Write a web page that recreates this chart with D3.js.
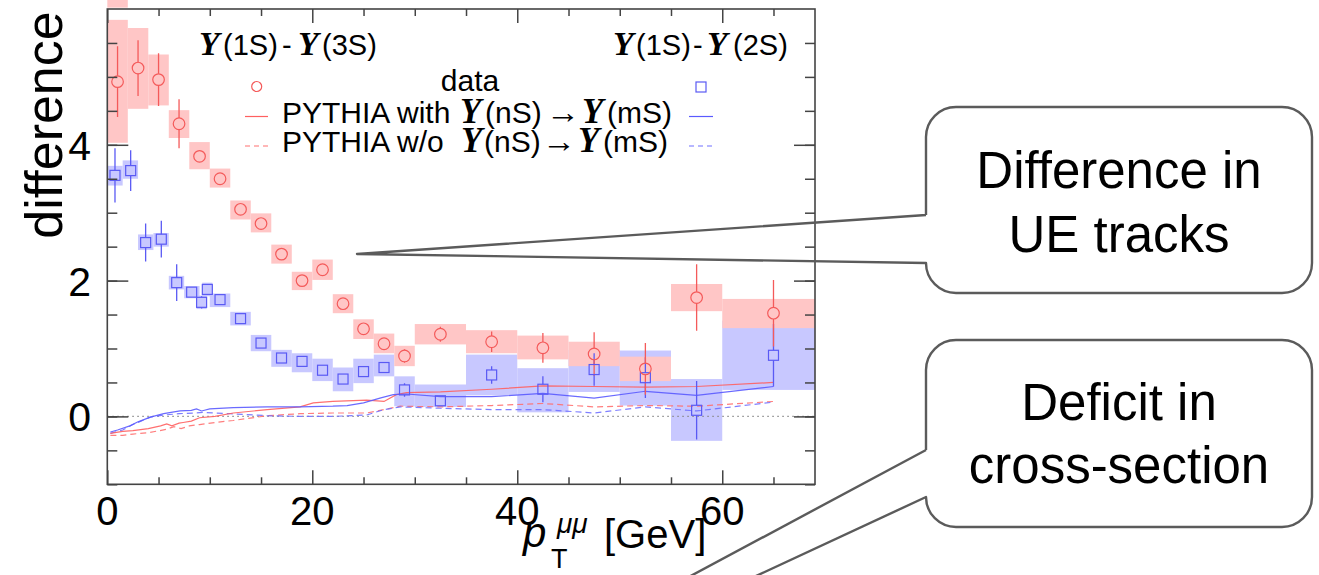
<!DOCTYPE html>
<html><head><meta charset="utf-8">
<script src="https://cdn.jsdelivr.net/npm/d3@7"></script>
<style>body{margin:0;background:#fff;} svg{display:block;background:#fff;}</style>
</head><body><svg id="c" width="1319" height="575"></svg>
<script>
// ---------- data: Y(1S)-Y(3S) (red circles) ----------
const redX   = [1,3,5,7,9,11,13,15,17,19,21,23,25,27,29,32.5,37.5,42.5,47.5,52.5,57.5,65];
const redY   = [4.93,5.13,4.96,4.31,3.83,3.50,3.05,2.84,2.39,2.00,2.16,1.66,1.29,1.07,0.89,1.21,1.10,1.01,0.92,0.70,1.75,1.52];
const redErr = [0.52,0.41,0.39,0.36,0.06,0.05,0.05,0.05,0.05,0.05,0.05,0.06,0.07,0.08,0.10,0.11,0.15,0.22,0.32,0.38,0.49,0.49];
const redBinLo = [0,2,4,6,8,10,12,14,16,18,20,22,24,26,28,30,35,40,45,50,55,60];
const redBinHi = [2,4,6,8,10,12,14,16,18,20,22,24,26,28,30,35,40,45,50,55,60,70];
const redSysLo = [4.03,4.53,4.58,4.10,3.64,3.37,2.90,2.71,2.25,1.86,2.01,1.52,1.14,0.93,0.74,1.06,0.93,0.84,0.74,0.52,1.55,1.30];
const redSysHi = [5.84,5.72,5.33,4.51,4.04,3.65,3.18,2.99,2.53,2.13,2.31,1.80,1.43,1.22,1.04,1.36,1.27,1.19,1.10,0.88,1.95,1.73];

// ---------- data: Y(1S)-Y(2S) (blue squares) ----------
const blueX   = [0.75,2.28,3.74,5.27,6.77,8.23,9.2,9.76,11,13,15,17,19,21,23,25,27,29,32.5,37.5,42.5,47.5,52.5,57.5,65];
const blueY   = [3.55,3.62,2.56,2.61,1.97,1.83,1.68,1.87,1.72,1.44,1.08,0.86,0.81,0.68,0.55,0.66,0.72,0.39,0.23,0.61,0.40,0.69,0.57,0.09,0.90];
const blueErr = [0.40,0.30,0.28,0.27,0.27,0.06,0.09,0.08,0.05,0.05,0.05,0.05,0.05,0.05,0.07,0.07,0.08,0.10,0.07,0.13,0.19,0.24,0.30,0.43,0.46];
const blueBinLo = [0,1.5,3,4.5,6,7.5,8.7,9.26,10,12,14,16,18,20,22,24,26,28,30,35,40,45,50,55,60];
const blueBinHi = [1.5,3,4.5,6,7.5,9,9.7,10.26,12,14,16,18,20,22,24,26,28,30,35,40,45,50,55,60,70];
const blueSysLo = [3.40,3.50,2.45,2.50,1.87,1.74,1.58,1.77,1.61,1.34,0.96,0.73,0.65,0.52,0.37,0.49,0.59,0.15,0.14,0.31,0.06,0.36,0.16,-0.36,0.39];
const blueSysHi = [3.69,3.77,2.68,2.70,2.07,1.92,1.78,1.97,1.81,1.54,1.20,0.98,0.93,0.85,0.72,0.85,0.91,0.59,0.47,0.91,0.71,0.98,0.97,0.55,1.41];

// ---------- PYTHIA curves ----------
const redSolidX = [0.3,1.5,2.5,4,5.2,5.8,6.3,7,7.4,8.2,9,10.5,12.3,15.6,18.8,20.1,22,25.3,27,28.2,29.2,32.5,37.5,42.5,47.5,52.5,57.5,65];
const redSolidY = [-0.25,-0.22,-0.21,-0.18,-0.14,-0.11,-0.14,-0.10,-0.09,-0.07,-0.02,0.0,0.05,0.10,0.14,0.20,0.22,0.24,0.22,0.32,0.35,0.36,0.40,0.45,0.44,0.43,0.44,0.50];
const blueSolidX = [0.3,1,2.2,3,4.2,5.5,7.1,8.2,8.7,9.2,10,12.3,15.6,18.8,22,23.4,25,26.6,27.9,29.2,32.5,37.5,42.5,47.5,52.5,57.5,65];
const blueSolidY = [-0.23,-0.2,-0.14,-0.08,-0.01,0.04,0.08,0.09,0.11,0.08,0.11,0.13,0.14,0.14,0.15,0.16,0.20,0.27,0.32,0.33,0.29,0.29,0.34,0.27,0.37,0.31,0.44];
const redDashX = [0.3,1.5,2.5,4,5.8,6.5,7.2,8,9,10.5,12.3,15.6,18.8,22,25.3,27,28.6,32.5,37.5,42.5,47.5,52.5,57.5,65];
const redDashY = [-0.28,-0.28,-0.26,-0.24,-0.19,-0.15,-0.18,-0.14,-0.12,-0.09,-0.06,0.01,0.04,0.05,0.05,0.10,0.15,0.14,0.16,0.19,0.14,0.16,0.15,0.22];
const blueDashX = [0.3,1.5,2.5,4.2,5.5,7,8.5,9.3,10.5,12,15.6,18.8,22,25.3,27,28.6,32.5,37.5,42.5,47.5,52.5,57.5,65];
const blueDashY = [-0.25,-0.2,-0.12,-0.01,0.02,0.04,0.05,0.06,0.05,0.04,0.01,0.0,0.0,0.02,0.10,0.14,0.12,0.10,0.10,0.05,0.14,0.08,0.21];

// stray pink strip above the frame (first bin)
const strayLo = [6.02], strayHi = [6.3], strayBinLo = [0], strayBinHi = [2];

// ---------- ticks ----------
const yMajor = [0,2,4];
const yLabels = ["0","2","4"];
const yMinor = [-1,-0.5,0,0.5,1,1.5,2,2.5,3,3.5,4,4.5,5,5.5];
const xMajor = [0,20,40,60];
const xLabels = ["0","20","40","60"];
const xMinor = [5,10,15,25,30,35,45,50,55,65];

const RED="#f45a5a", BLUE="#5a5af4", RFILL="#ffc6c6", BFILL="#c8c8ff";
const SANS="'Liberation Sans', Arial, Helvetica, sans-serif";
const SERIF="'Liberation Serif', 'Times New Roman', serif";

const svg=d3.select("#c");
const L=107.3, R=815, T=9, B=484.3;
const x=d3.scaleLinear().domain([0,69.05]).range([L,R]);
const y=d3.scaleLinear().domain([-1,6]).range([B,T]);

svg.append("defs").append("clipPath").attr("id","clip")
  .append("rect").attr("x",L).attr("y",T).attr("width",R-L).attr("height",B-T);
const g=svg.append("g").attr("clip-path","url(#clip)");

// stray strip (outside frame, no clip)
svg.selectAll("rect.stray").data(strayLo).join("rect").attr("class","stray")
  .attr("x",(d,i)=>x(strayBinLo[i])).attr("width",(d,i)=>x(strayBinHi[i])-x(strayBinLo[i]))
  .attr("y",(d,i)=>y(strayHi[i])).attr("height",(d,i)=>y(d)-y(strayHi[i])).attr("fill",RFILL);

// boxes
g.selectAll("rect.bb").data(blueSysLo).join("rect").attr("class","bb")
  .attr("x",(d,i)=>x(blueBinLo[i])).attr("width",(d,i)=>x(blueBinHi[i])-x(blueBinLo[i]))
  .attr("y",(d,i)=>y(blueSysHi[i])).attr("height",(d,i)=>y(d)-y(blueSysHi[i])).attr("fill",BFILL);
g.selectAll("rect.rb").data(redSysLo).join("rect").attr("class","rb")
  .attr("x",(d,i)=>x(redBinLo[i])).attr("width",(d,i)=>x(redBinHi[i])-x(redBinLo[i]))
  .attr("y",(d,i)=>y(redSysHi[i])).attr("height",(d,i)=>y(d)-y(redSysHi[i])).attr("fill",RFILL);

// zero dotted line
g.append("line").attr("x1",x(0)).attr("x2",x(69.05)).attr("y1",y(0)).attr("y2",y(0))
  .attr("stroke","#8a8a8a").attr("stroke-width",1.3).attr("stroke-dasharray","1.5,3.5");

// curves
const line=d3.line().x(d=>x(d[0])).y(d=>y(d[1]));
function curve(xs,ys,col,dash){
  g.append("path").datum(xs.map((v,i)=>[v,ys[i]])).attr("d",line)
   .attr("fill","none").attr("stroke",col).attr("stroke-width",1.2)
   .attr("stroke-dasharray",dash?"6,4":null).attr("opacity",0.9);
}
curve(redDashX,redDashY,"#ff7070",true);
curve(blueDashX,blueDashY,"#7070ff",true);
curve(redSolidX,redSolidY,"#ff6060",false);
curve(blueSolidX,blueSolidY,"#5a5aff",false);

// error bars
function errs(xs,ys,es,col,r){
  xs.forEach((xv,i)=>{
    const cy=y(ys[i]), top=y(ys[i]+es[i]), bot=y(ys[i]-es[i]);
    if(cy-top>r){
      g.append("line").attr("x1",x(xv)).attr("x2",x(xv)).attr("y1",top).attr("y2",cy-r).attr("stroke",col).attr("stroke-width",1.3);
      g.append("line").attr("x1",x(xv)).attr("x2",x(xv)).attr("y1",cy+r).attr("y2",bot).attr("stroke",col).attr("stroke-width",1.3);
    }
  });
}
errs(blueX,blueY,blueErr,BLUE,5);
errs(redX,redY,redErr,RED,5.8);

// markers
g.selectAll("rect.bm").data(blueY).join("rect").attr("class","bm")
  .attr("x",(d,i)=>x(blueX[i])-5).attr("y",d=>y(d)-5).attr("width",10).attr("height",10)
  .attr("fill","none").attr("stroke",BLUE).attr("stroke-width",1.2);
g.selectAll("circle.rm").data(redY).join("circle").attr("class","rm")
  .attr("cx",(d,i)=>x(redX[i])).attr("cy",d=>y(d)).attr("r",5.8)
  .attr("fill","none").attr("stroke",RED).attr("stroke-width",1.2);

// frame
svg.append("rect").attr("x",L).attr("y",T).attr("width",R-L).attr("height",B-T)
  .attr("fill","none").attr("stroke","#444").attr("stroke-width",1.6);

// ticks
const TK="#444";
function yt(vals,len){
  svg.append("g").attr("transform",`translate(${L},0)`).call(d3.axisRight(y).tickValues(vals).tickSize(len).tickFormat(""))
    .call(a=>a.select(".domain").remove()).selectAll("line").attr("stroke",TK).attr("stroke-width",1.5);
  svg.append("g").attr("transform",`translate(${R},0)`).call(d3.axisLeft(y).tickValues(vals).tickSize(len).tickFormat(""))
    .call(a=>a.select(".domain").remove()).selectAll("line").attr("stroke",TK).attr("stroke-width",1.5);
}
yt(yMinor,10); yt(yMajor,21);
function xt(vals,len){
  svg.append("g").attr("transform",`translate(0,${B})`).call(d3.axisTop(x).tickValues(vals).tickSize(len).tickFormat(""))
    .call(a=>a.select(".domain").remove()).selectAll("line").attr("stroke",TK).attr("stroke-width",1.5);
  svg.append("g").attr("transform",`translate(0,${T})`).call(d3.axisBottom(x).tickValues(vals).tickSize(len).tickFormat(""))
    .call(a=>a.select(".domain").remove()).selectAll("line").attr("stroke",TK).attr("stroke-width",1.5);
}
xt(xMinor,7); xt(xMajor,14);

// tick labels
svg.selectAll("text.yl").data(yMajor).join("text").attr("class","yl")
  .attr("x",91).attr("y",d=>y(d)+15).attr("text-anchor","end")
  .attr("font-family",SANS).attr("font-size",41).text((d,i)=>yLabels[i]);
svg.selectAll("text.xl").data(xMajor).join("text").attr("class","xl")
  .attr("x",d=>x(d)).attr("y",525).attr("text-anchor","middle")
  .attr("font-family",SANS).attr("font-size",40).text((d,i)=>xLabels[i]);

// axis titles
svg.append("text").attr("transform","translate(62,125) rotate(-90)").attr("text-anchor","middle")
  .attr("font-family",SANS).attr("font-size",52).text("difference");
const xt1=svg.append("g").attr("font-family",SANS);
xt1.append("text").attr("x",523).attr("y",547).attr("font-size",42).attr("font-style","italic").text("p");
xt1.append("text").attr("x",551).attr("y",568).attr("font-size",27).text("T");
xt1.append("text").attr("x",557).attr("y",533).attr("font-size",28).attr("font-style","italic").text("μμ");
xt1.append("text").attr("x",604).attr("y",548).attr("font-size",40).text("[GeV]");

// labels with upsilons: parts = [text, x, kind]  kind 1 = upsilon, 2 = arrow
function ups(yb,parts,size){
  const t=svg.append("text").attr("y",yb).attr("font-family",SANS).attr("font-size",size);
  parts.forEach(p=>{
    const s=t.append("tspan").attr("x",p[1]).text(p[0]);
    if(p[2]===1) s.attr("font-family",SERIF).attr("font-style","italic").attr("font-weight","bold").attr("font-size",size*1.16);
    if(p[2]===2) s.attr("textLength",p[3]).attr("lengthAdjust","spacingAndGlyphs").attr("font-size",size*1.05);
  });
}
ups(55,[["Υ",199,1],["(1S)",223],["-",282],["Υ",298,1],["(3S)",322]],29);
ups(55,[["Υ",613,1],["(1S)",636],["-",693],["Υ",707,1],["(2S)",733]],29);

// legend
svg.append("text").attr("x",470).attr("y",91).attr("text-anchor","middle").attr("font-family",SANS).attr("font-size",30).text("data");
svg.append("circle").attr("cx",256.7).attr("cy",86.5).attr("r",5).attr("fill","none").attr("stroke",RED).attr("stroke-width",1.2);
svg.append("rect").attr("x",696).attr("y",82).attr("width",10).attr("height",10).attr("fill","none").attr("stroke",BLUE).attr("stroke-width",1.2);
ups(123,[["PYTHIA with",282],["Υ",460,1],["(nS)",485],["→",546,2,34],["Υ",582,1],["(mS)",607]],30);
ups(152,[["PYTHIA w/o",282],["Υ",461,1],["(nS)",484],["→",542,2,34],["Υ",578,1],["(mS)",603]],30);
svg.append("line").attr("x1",245).attr("x2",268).attr("y1",116.5).attr("y2",116.5).attr("stroke","#ff6060").attr("stroke-width",1.2);
svg.append("line").attr("x1",689).attr("x2",713).attr("y1",116.5).attr("y2",116.5).attr("stroke","#5a5aff").attr("stroke-width",1.2);
svg.append("line").attr("x1",245).attr("x2",268).attr("y1",146).attr("y2",146).attr("stroke","#ff7070").attr("stroke-width",1.2).attr("stroke-dasharray","5,4");
svg.append("line").attr("x1",689).attr("x2",713).attr("y1",146).attr("y2",146).attr("stroke","#7070ff").attr("stroke-width",1.2).attr("stroke-dasharray","5,4");

// callouts
function callout(bx,by,bw,bh,r,w1,w2,ax,ay,lines,base){
  const p=d3.path();
  p.moveTo(bx,w1); p.lineTo(ax,ay); p.lineTo(bx,w2);
  p.lineTo(bx,by+bh-r); p.arcTo(bx,by+bh,bx+r,by+bh,r);
  p.lineTo(bx+bw-r,by+bh); p.arcTo(bx+bw,by+bh,bx+bw,by+bh-r,r);
  p.lineTo(bx+bw,by+r); p.arcTo(bx+bw,by,bx+bw-r,by,r);
  p.lineTo(bx+r,by); p.arcTo(bx,by,bx,by+r,r);
  p.lineTo(bx,w1);
  svg.append("path").attr("d",p.toString()).attr("fill","none").attr("stroke","#5b5b5b").attr("stroke-width",2.4).attr("stroke-linejoin","round");
  lines.forEach((t,i)=>svg.append("text").attr("x",bx+bw/2).attr("y",base[i]).attr("text-anchor","middle")
    .attr("font-family",SANS).attr("font-size",51).attr("fill","#000").text(t));
}
callout(926,107,386,186,30,215,263,357,254,["Difference in","UE tracks"],[188,252]);
callout(926,340,386,187,30,450,497,259,807,["Deficit in","cross-section"],[420,483]);
</script></body></html>
